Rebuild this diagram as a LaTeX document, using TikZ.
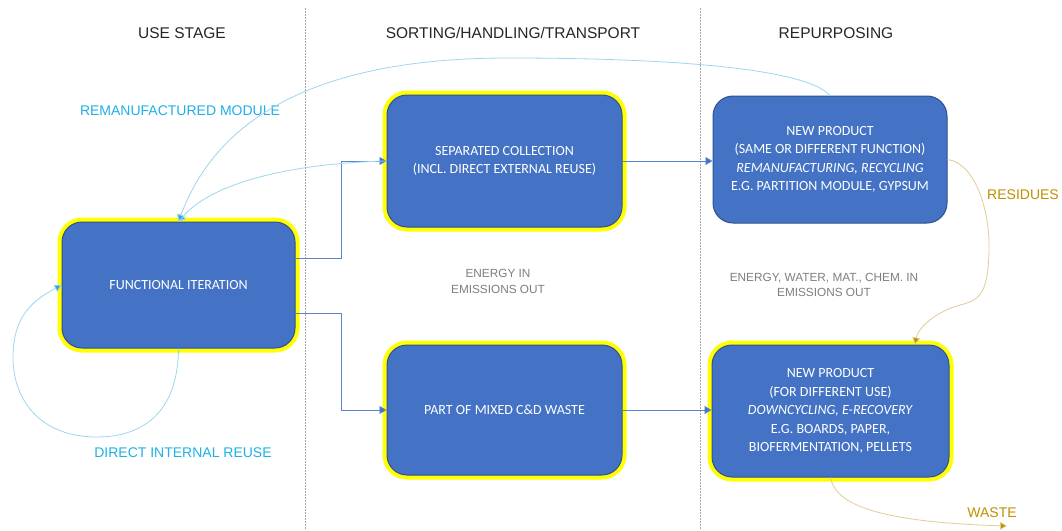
\documentclass[tikz,border=0pt]{standalone}
\usepackage{fontspec}
\setmainfont{Carlito}
\newfontfamily\arialf{Liberation Sans}
\usetikzlibrary{arrows.meta}
\definecolor{boxblue}{HTML}{4472C4}
\definecolor{boxedge}{HTML}{2F528F}
\definecolor{hly}{HTML}{FFFF00}
\definecolor{connblue}{HTML}{5A84CC}
\definecolor{cyantext}{HTML}{1FB0E6}
\definecolor{cyanline}{HTML}{9FD6EF}
\definecolor{cyanarrow}{HTML}{2EA6DE}
\definecolor{goldtext}{HTML}{BF9000}
\definecolor{goldline}{HTML}{E3CC95}
\definecolor{greytext}{HTML}{7F7F7F}
\definecolor{divgrey}{HTML}{A6A6A6}
\begin{document}
\begin{tikzpicture}[x=1pt,y=-1pt,
  pbox/.style={draw=boxedge, line width=1pt, fill=boxblue, rounded corners=20pt,
    text=white, align=center, font=\fontsize{14}{18.5}\selectfont, inner sep=0pt},
  ybox/.style={pbox, preaction={draw=hly, line width=9pt}},
  conn/.style={draw=connblue, line width=0.8pt, -{Triangle[length=7pt,width=8pt,fill=boxblue]}},
  cyanconn/.style={draw=cyanline, line width=0.8pt, -{Triangle[length=7pt,width=8pt,fill=cyanarrow]}},
  goldconn/.style={draw=goldline, line width=0.8pt, -{Triangle[length=7pt,width=8pt,fill=goldtext]}},
  hdr/.style={font=\arialf\fontsize{15.5}{18}\selectfont, text=black!85, inner sep=0pt},
  cyanlbl/.style={font=\arialf\fontsize{14}{16}\selectfont, text=cyantext, inner sep=0pt},
  goldlbl/.style={font=\arialf\fontsize{14}{16}\selectfont, text=goldtext, inner sep=0pt},
  greytxt/.style={font=\arialf\fontsize{11.8}{15.5}\selectfont, text=greytext, align=center, inner sep=0pt},
  divider/.style={draw=divgrey, line width=0.7pt, dash pattern=on 1.5pt off 1.5pt}
]
\useasboundingbox[fill=white] (0,0) rectangle (1062,530);

% dividers
\draw[divider] (305,8) -- (305,530);
\draw[divider] (700,8) -- (700,530);

% headers
\node[hdr] (h1) at (182,33) {USE STAGE};
\node[hdr] (h2) at (513,33) {SORTING/HANDLING/TRANSPORT};
\node[hdr] (h3) at (836,33) {REPURPOSING};

% boxes
\node[ybox, minimum width=233pt, minimum height=126pt] (fi) at (178.5,285) {FUNCTIONAL ITERATION};
\node[ybox, minimum width=235pt, minimum height=132pt] (sc) at (504.5,161) {SEPARATED COLLECTION\\(INCL. DIRECT EXTERNAL REUSE)};
\node[ybox, minimum width=235pt, minimum height=130pt] (mw) at (504.5,410) {PART OF MIXED C\&D WASTE};
\node[pbox, minimum width=234pt, minimum height=127pt] (np1) at (830,159.5) {NEW PRODUCT\\(SAME OR DIFFERENT FUNCTION)\\\textit{REMANUFACTURING, RECYCLING}\\E.G. PARTITION MODULE, GYPSUM};
\node[ybox, minimum width=237pt, minimum height=132pt] (np2) at (830.5,411) {NEW PRODUCT\\(FOR DIFFERENT USE)\\\textit{DOWNCYCLING, E-RECOVERY}\\E.G. BOARDS, PAPER,\\BIOFERMENTATION, PELLETS};

% texts
\node[greytxt] (e1) at (498,281.5) {ENERGY IN\\EMISSIONS OUT};
\node[greytxt] (e2) at (824,285) {ENERGY, WATER, MAT., CHEM. IN\\EMISSIONS OUT};
\node[cyanlbl] (rm) at (180,111) {REMANUFACTURED MODULE};
\node[cyanlbl] (dir) at (183,453) {DIRECT INTERNAL REUSE};
\node[goldlbl] (res) at (1023,195) {RESIDUES};
\node[goldlbl] (waste) at (992,513) {WASTE};

% blue connectors
\draw[conn] ([yshift=27pt]fi.east) -- ++(46,0) |- (sc.west);
\draw[conn] ([yshift=-28pt]fi.east) -- ++(46,0) |- (mw.west);
\draw[conn] (sc.east) -- (sc.east -| np1.west);
\draw[conn] (mw.east) -- (mw.east -| np2.west);

% cyan connectors
\draw[cyanconn] (sc.west) .. controls (300,163) and (215,180) .. (fi.north);
\draw[cyanconn] (np1.north) .. controls (810,72) and (700,58) .. (508,58)
   .. controls (330,58) and (220,110) .. (fi.north);
\draw[cyanconn] (fi.south) .. controls (178,415) and (140,437) .. (97,437)
   .. controls (40,437) and (13,400) .. (13,357)
   .. controls (13,312) and (38,298) .. (fi.west);

% gold connectors
\draw[goldconn] (np1.east) .. controls (975,163) and (990,210) .. (989,250)
   .. controls (988,290) and (982,300) .. (960,305)
   .. controls (935,312) and (918,328) .. ([xshift=84.5pt]np2.north);
\coordinate (wasteend) at (1007,526);
\draw[goldconn] (np2.south) .. controls (835,505) and (880,522) .. (wasteend);
\end{tikzpicture}
\end{document}
